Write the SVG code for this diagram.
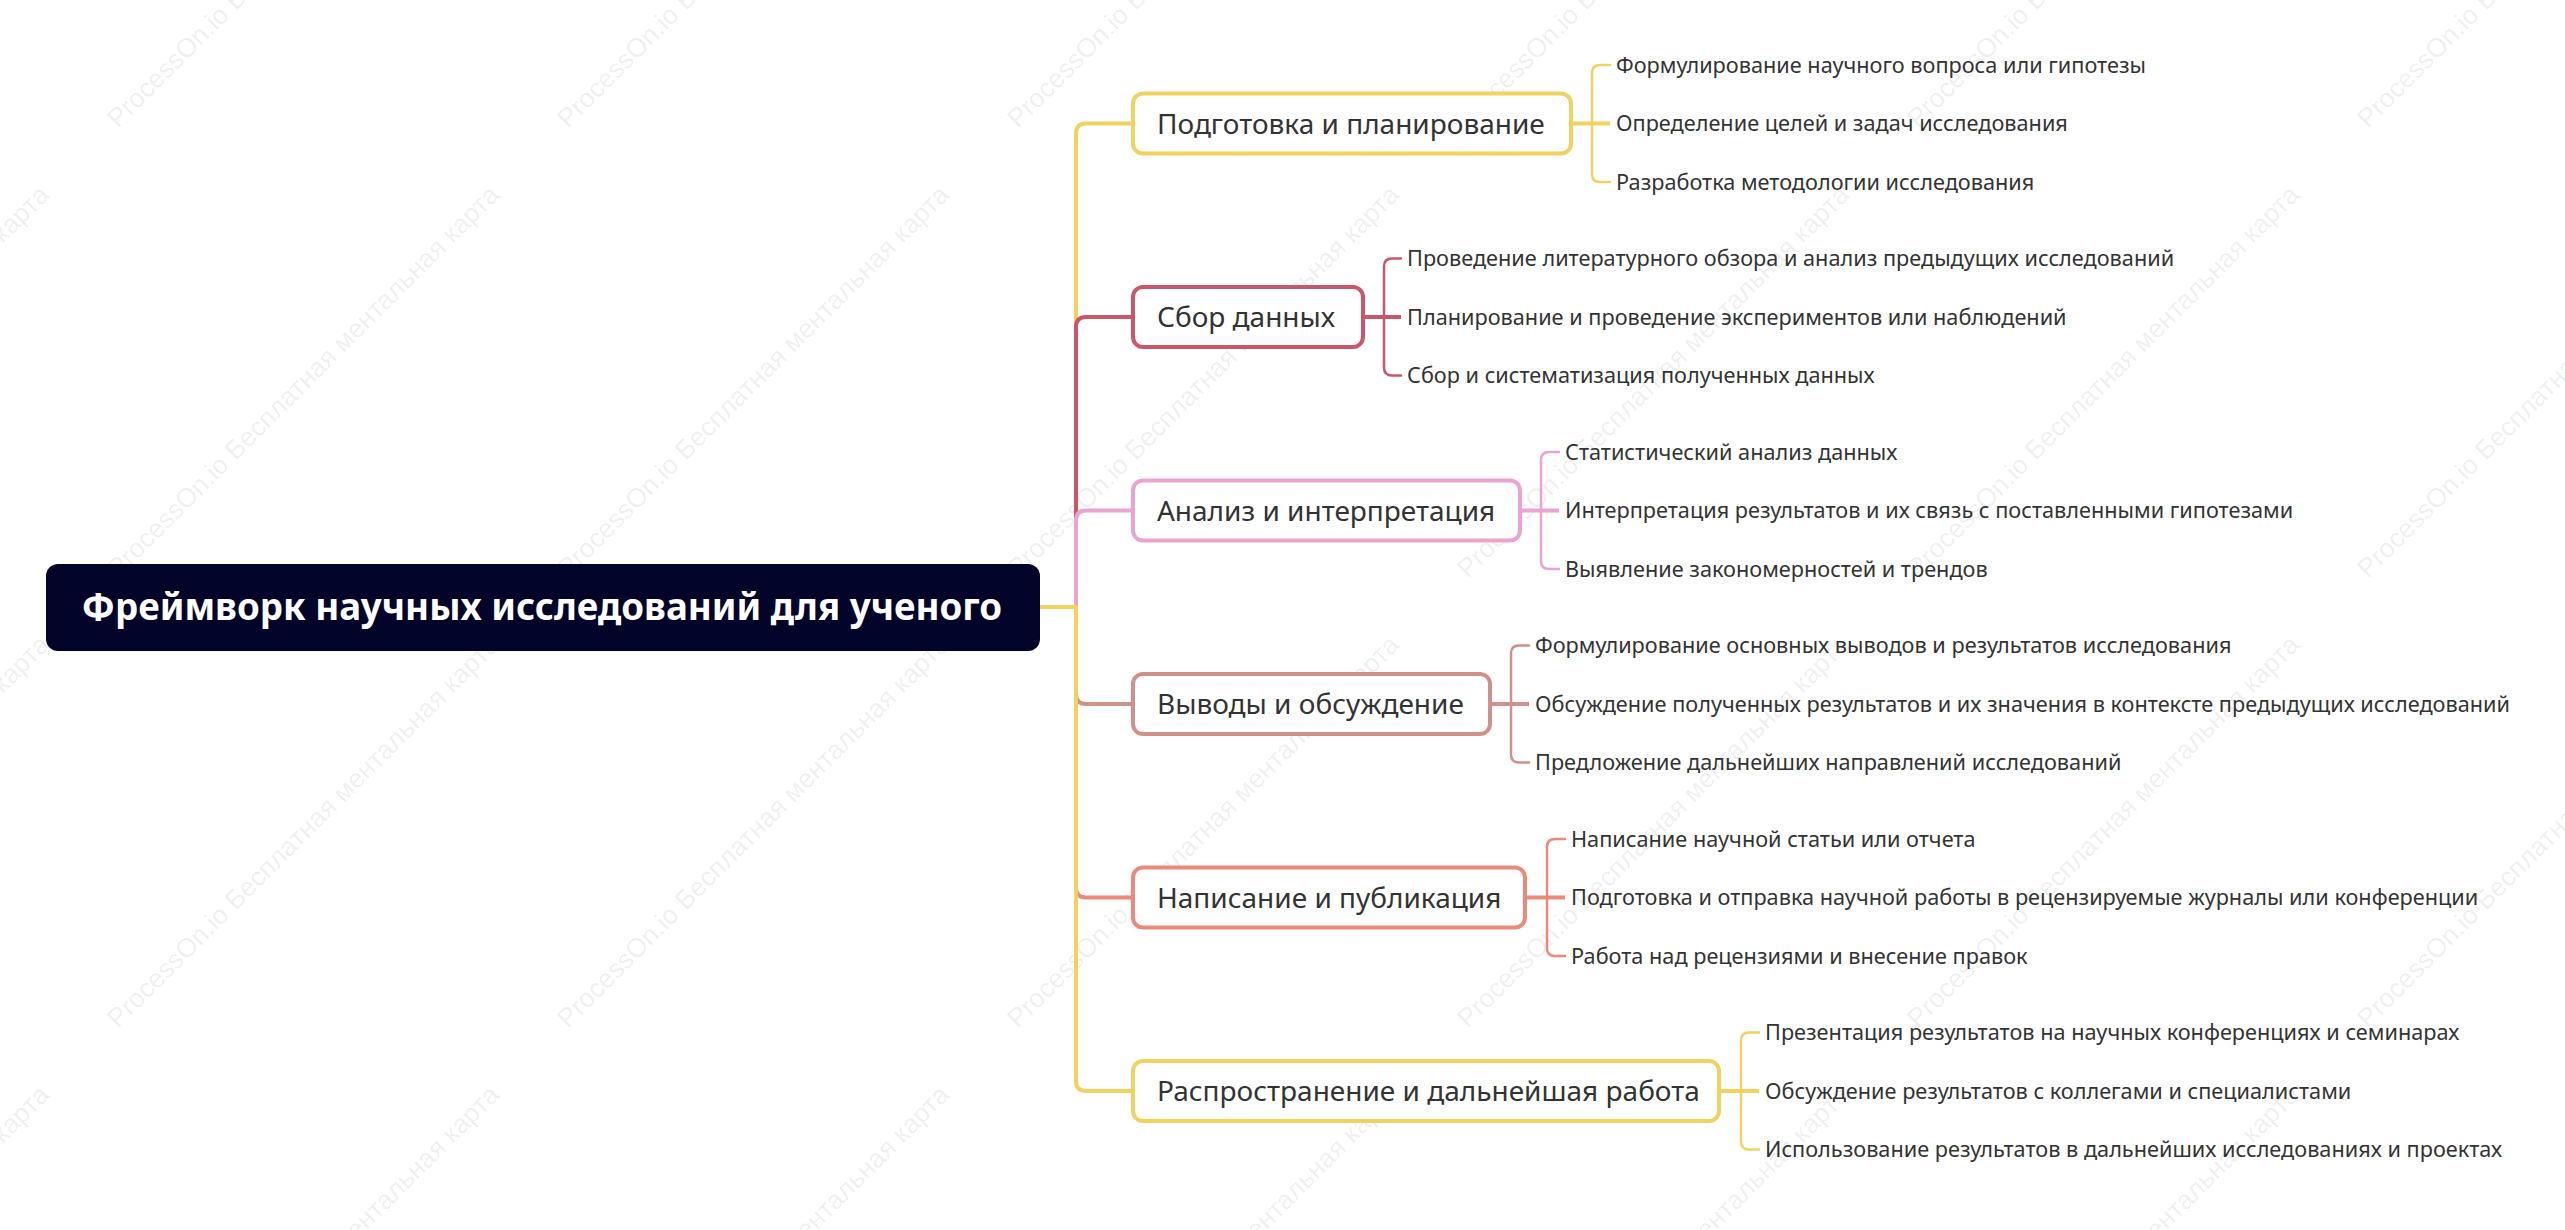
<svg xmlns="http://www.w3.org/2000/svg" width="2565" height="1230" viewBox="0 0 2565 1230">
<style>
.wm{font-family:"Liberation Sans",Arial,sans-serif;font-size:26.5px;fill:#000;fill-opacity:0.075}
.root{fill:#03042a}
.rt{font-family:"Noto Sans","Open Sans",sans-serif;font-weight:bold;font-size:36.7px;fill:#fff}
.box{fill:#fff;stroke-width:4}
.nt{font-family:"Noto Sans","Open Sans",sans-serif;font-size:28px;fill:#333}
.lt{font-family:"Noto Sans","Open Sans",sans-serif;font-size:21.7px;fill:#333}
.br{fill:none;stroke-width:4;stroke-linecap:round;stroke-linejoin:round}
.lf{fill:none;stroke-width:2.5;stroke-linecap:round;stroke-linejoin:round}
.lm{fill:none;stroke-width:4;stroke-linecap:butt}
.c1{stroke:#f2d25e}.c2{stroke:#c9566b}.c3{stroke:#eba3d1}.c4{stroke:#d2908a}.c5{stroke:#eb8a7b}
</style>
<rect width="2565" height="1230" fill="#fff"/>
<g id="watermarks">
<text class="wm" transform="translate(118,129) rotate(-45)">ProcessOn.io Бесплатная ментальная карта</text>
<text class="wm" transform="translate(568,129) rotate(-45)">ProcessOn.io Бесплатная ментальная карта</text>
<text class="wm" transform="translate(1018,129) rotate(-45)">ProcessOn.io Бесплатная ментальная карта</text>
<text class="wm" transform="translate(1468,129) rotate(-45)">ProcessOn.io Бесплатная ментальная карта</text>
<text class="wm" transform="translate(1918,129) rotate(-45)">ProcessOn.io Бесплатная ментальная карта</text>
<text class="wm" transform="translate(2368,129) rotate(-45)">ProcessOn.io Бесплатная ментальная карта</text>
<text class="wm" transform="translate(-332,579) rotate(-45)">ProcessOn.io Бесплатная ментальная карта</text>
<text class="wm" transform="translate(118,579) rotate(-45)">ProcessOn.io Бесплатная ментальная карта</text>
<text class="wm" transform="translate(568,579) rotate(-45)">ProcessOn.io Бесплатная ментальная карта</text>
<text class="wm" transform="translate(1018,579) rotate(-45)">ProcessOn.io Бесплатная ментальная карта</text>
<text class="wm" transform="translate(1468,579) rotate(-45)">ProcessOn.io Бесплатная ментальная карта</text>
<text class="wm" transform="translate(1918,579) rotate(-45)">ProcessOn.io Бесплатная ментальная карта</text>
<text class="wm" transform="translate(2368,579) rotate(-45)">ProcessOn.io Бесплатная ментальная карта</text>
<text class="wm" transform="translate(-332,1029) rotate(-45)">ProcessOn.io Бесплатная ментальная карта</text>
<text class="wm" transform="translate(118,1029) rotate(-45)">ProcessOn.io Бесплатная ментальная карта</text>
<text class="wm" transform="translate(568,1029) rotate(-45)">ProcessOn.io Бесплатная ментальная карта</text>
<text class="wm" transform="translate(1018,1029) rotate(-45)">ProcessOn.io Бесплатная ментальная карта</text>
<text class="wm" transform="translate(1468,1029) rotate(-45)">ProcessOn.io Бесплатная ментальная карта</text>
<text class="wm" transform="translate(1918,1029) rotate(-45)">ProcessOn.io Бесплатная ментальная карта</text>
<text class="wm" transform="translate(2368,1029) rotate(-45)">ProcessOn.io Бесплатная ментальная карта</text>
<text class="wm" transform="translate(-332,1479) rotate(-45)">ProcessOn.io Бесплатная ментальная карта</text>
<text class="wm" transform="translate(118,1479) rotate(-45)">ProcessOn.io Бесплатная ментальная карта</text>
<text class="wm" transform="translate(568,1479) rotate(-45)">ProcessOn.io Бесплатная ментальная карта</text>
<text class="wm" transform="translate(1018,1479) rotate(-45)">ProcessOn.io Бесплатная ментальная карта</text>
<text class="wm" transform="translate(1468,1479) rotate(-45)">ProcessOn.io Бесплатная ментальная карта</text>
<text class="wm" transform="translate(1918,1479) rotate(-45)">ProcessOn.io Бесплатная ментальная карта</text>
<text class="wm" transform="translate(2368,1479) rotate(-45)">ProcessOn.io Бесплатная ментальная карта</text>
</g>
<g id="connectors">
<path class="br c1" d="M1040 607 H1076 V133.5 Q1076 123.5 1086 123.5 H1132"/>
<path class="br c2" d="M1040 607 H1076 V327 Q1076 317 1086 317 H1132"/>
<path class="br c3" d="M1040 607 H1076 V520.5 Q1076 510.5 1086 510.5 H1132"/>
<path class="br c4" d="M1040 607 H1076 V694 Q1076 704 1086 704 H1132"/>
<path class="br c5" d="M1040 607 H1076 V887.5 Q1076 897.5 1086 897.5 H1132"/>
<path class="br c1" d="M1040 607 H1076 V1081 Q1076 1091 1086 1091 H1132"/>
<path class="lf c1" d="M1571 123.5 H1592 V73 Q1592 65 1600 65 H1610 M1592 123.5 V174 Q1592 182 1600 182 H1610"/>
<line class="lm c1" x1="1571" y1="123.5" x2="1610" y2="123.5"/>
<path class="lf c2" d="M1363 317 H1384 V266.5 Q1384 258.5 1392 258.5 H1401 M1384 317 V367.5 Q1384 375.5 1392 375.5 H1401"/>
<line class="lm c2" x1="1363" y1="317" x2="1401" y2="317"/>
<path class="lf c3" d="M1520 510.5 H1541 V460 Q1541 452 1549 452 H1559 M1541 510.5 V561 Q1541 569 1549 569 H1559"/>
<line class="lm c3" x1="1520" y1="510.5" x2="1559" y2="510.5"/>
<path class="lf c4" d="M1490 704 H1511 V653.5 Q1511 645.5 1519 645.5 H1529 M1511 704 V754.5 Q1511 762.5 1519 762.5 H1529"/>
<line class="lm c4" x1="1490" y1="704" x2="1529" y2="704"/>
<path class="lf c5" d="M1525 897.5 H1547 V847 Q1547 839 1555 839 H1565 M1547 897.5 V948 Q1547 956 1555 956 H1565"/>
<line class="lm c5" x1="1525" y1="897.5" x2="1565" y2="897.5"/>
<path class="lf c1" d="M1719 1091 H1741 V1040.5 Q1741 1032.5 1749 1032.5 H1759 M1741 1091 V1141.5 Q1741 1149.5 1749 1149.5 H1759"/>
<line class="lm c1" x1="1719" y1="1091" x2="1759" y2="1091"/>
</g>
<g id="root">
<rect class="root" x="46" y="564" width="994" height="87" rx="12"/>
<text class="rt" x="542" y="620" text-anchor="middle">Фреймворк научных исследований для ученого</text>
</g>
<g id="n1">
<rect class="box c1" x="1133" y="93.5" width="438" height="60" rx="10"/>
<text class="nt" x="1157" y="133.5">Подготовка и планирование</text>
</g>
<g id="n2">
<rect class="box c2" x="1133" y="287" width="230" height="60" rx="10"/>
<text class="nt" x="1157" y="327">Сбор данных</text>
</g>
<g id="n3">
<rect class="box c3" x="1133" y="480.5" width="387" height="60" rx="10"/>
<text class="nt" x="1157" y="520.5">Анализ и интерпретация</text>
</g>
<g id="n4">
<rect class="box c4" x="1133" y="674" width="357" height="60" rx="10"/>
<text class="nt" x="1157" y="714">Выводы и обсуждение</text>
</g>
<g id="n5">
<rect class="box c5" x="1133" y="867.5" width="392" height="60" rx="10"/>
<text class="nt" x="1157" y="907.5">Написание и публикация</text>
</g>
<g id="n6">
<rect class="box c1" x="1133" y="1061" width="586" height="60" rx="10"/>
<text class="nt" x="1157" y="1101">Распространение и дальнейшая работа</text>
</g>
<g id="leaves">
<text class="lt" x="1616" y="72.5">Формулирование научного вопроса или гипотезы</text>
<text class="lt" x="1616" y="131">Определение целей и задач исследования</text>
<text class="lt" x="1616" y="189.5">Разработка методологии исследования</text>
<text class="lt" x="1407" y="266">Проведение литературного обзора и анализ предыдущих исследований</text>
<text class="lt" x="1407" y="324.5">Планирование и проведение экспериментов или наблюдений</text>
<text class="lt" x="1407" y="383">Сбор и систематизация полученных данных</text>
<text class="lt" x="1565" y="459.5">Статистический анализ данных</text>
<text class="lt" x="1565" y="518">Интерпретация результатов и их связь с поставленными гипотезами</text>
<text class="lt" x="1565" y="576.5">Выявление закономерностей и трендов</text>
<text class="lt" x="1535" y="653">Формулирование основных выводов и результатов исследования</text>
<text class="lt" x="1535" y="711.5">Обсуждение полученных результатов и их значения в контексте предыдущих исследований</text>
<text class="lt" x="1535" y="770">Предложение дальнейших направлений исследований</text>
<text class="lt" x="1571" y="846.5">Написание научной статьи или отчета</text>
<text class="lt" x="1571" y="905">Подготовка и отправка научной работы в рецензируемые журналы или конференции</text>
<text class="lt" x="1571" y="963.5">Работа над рецензиями и внесение правок</text>
<text class="lt" x="1765" y="1040">Презентация результатов на научных конференциях и семинарах</text>
<text class="lt" x="1765" y="1098.5">Обсуждение результатов с коллегами и специалистами</text>
<text class="lt" x="1765" y="1157">Использование результатов в дальнейших исследованиях и проектах</text>
</g>
</svg>
